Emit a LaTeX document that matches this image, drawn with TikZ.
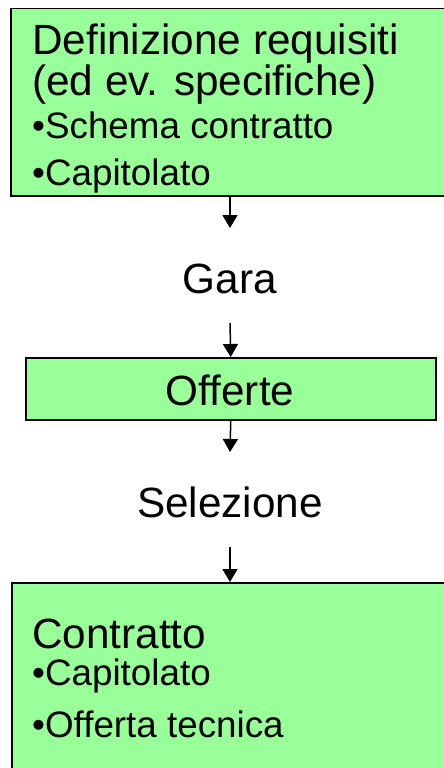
\documentclass[tikz,border=0pt]{standalone}
\usepackage{fontspec}
\setmainfont{Liberation Sans}
\usetikzlibrary{arrows.meta}
\definecolor{boxgreen}{HTML}{99FF99}
\tikzset{
  greenbox/.style={draw=black, line width=1.5pt, fill=boxgreen, rectangle, inner sep=0pt},
  bigtxt/.style={font=\fontsize{42.3}{48}\selectfont, inner sep=0pt},
  smalltxt/.style={font=\fontsize{36.8}{42}\selectfont, inner sep=0pt},
  arr/.style={line width=1.5pt, -{Triangle[width=15pt,length=13pt]}}
}
\begin{document}
\begin{tikzpicture}[x=1pt,y=-1pt]
\useasboundingbox (0,0) rectangle (444,768);
\clip (0,0) rectangle (444,768);
\fill[white] (0,0) rectangle (444,768);
% boxes
\node[greenbox, minimum width=450pt, minimum height=187pt, anchor=north west] (req) at (10,8) {};
\node[greenbox, minimum width=410pt, minimum height=62pt, anchor=north west] (off) at (25,357) {};
\node[greenbox, minimum width=450pt, minimum height=200pt, anchor=north west] (con) at (11,582) {};
% texts
\node[bigtxt, anchor=base west] (t1) at (32,55) {Definizione requisiti};
\node[bigtxt, anchor=base west] (t2) at (32,95) {(ed ev. specifiche)};
\node[smalltxt, anchor=base west] (t3) at (32,138) {•Schema contratto};
\node[smalltxt, anchor=base west] (t4) at (32,185) {•Capitolato};
\node[bigtxt, anchor=base] (gara) at (230,293) {Gara};
\node[bigtxt, anchor=base] (offt) at (230,405) {Offerte};
\node[bigtxt, anchor=base] (sel) at (230,517) {Selezione};
\node[bigtxt, anchor=base west] (c1) at (32,648) {Contratto};
\node[smalltxt, anchor=base west] (c2) at (32,685) {•Capitolato};
\node[smalltxt, anchor=base west] (c3) at (32,737) {•Offerta tecnica};
% arrow endpoints
\coordinate (a1s) at (230,195);
\coordinate (a1e) at (230,228);
\coordinate (a2s) at (230,323);
\coordinate (a3e) at (230,452);
\coordinate (a4s) at (230,547);
\draw[arr] (a1s) -- (a1e);
\draw[arr] (a2s) -- (off.north);
\draw[arr] (off.south) -- (a3e);
\draw[arr] (a4s) -- (a4s |- con.north);
\end{tikzpicture}
\end{document}
